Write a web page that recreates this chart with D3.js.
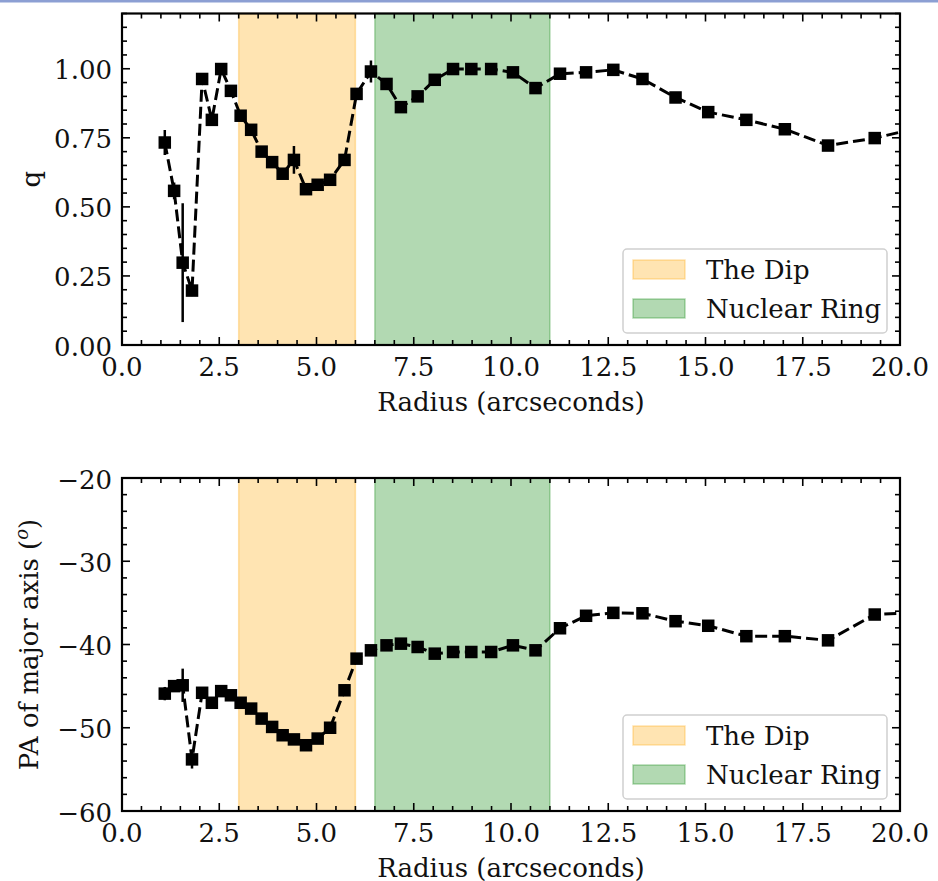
<!DOCTYPE html>
<html>
<head>
<meta charset="utf-8">
<script src="https://cdn.jsdelivr.net/npm/d3@7"></script>
<style>
  html, body { margin: 0; padding: 0; background: #fff; }
  svg { display: block; }
  text { font-family: "DejaVu Serif", serif; fill: #111; }
</style>
</head>
<body>
<svg id="chart" width="938" height="881"></svg>
<script>
// Radial profile of the isophote fits: axis ratio q and position angle vs radius
const radius = [1.10, 1.34, 1.56, 1.80, 2.06, 2.31, 2.55, 2.80, 3.05, 3.32,
                3.59, 3.86, 4.13, 4.42, 4.73, 5.03, 5.35, 5.72, 6.03, 6.40,
                6.80, 7.17, 7.60, 8.04, 8.51, 8.98, 9.49, 10.05, 10.63, 11.26,
                11.93, 12.63, 13.38, 14.23, 15.07, 16.05, 17.04, 18.15, 19.35, 20.60];

const axisRatio = [0.733, 0.558, 0.298, 0.197, 0.963, 0.815, 0.999, 0.920, 0.830, 0.779,
                   0.700, 0.662, 0.620, 0.670, 0.564, 0.580, 0.598, 0.670, 0.909, 0.990,
                   0.945, 0.861, 0.900, 0.960, 0.999, 0.999, 0.999, 0.987, 0.930, 0.982,
                   0.987, 0.996, 0.963, 0.896, 0.843, 0.815, 0.781, 0.722, 0.749, 0.790];
const axisRatioErr = [0.045, 0.030, 0.215, 0.020, 0.020, 0.020, 0.020, 0.020, 0.015, 0.015,
                      0.015, 0.015, 0.015, 0.050, 0.020, 0.020, 0.015, 0.015, 0.015, 0.040,
                      0.015, 0.015, 0.015, 0.015, 0.015, 0.015, 0.015, 0.015, 0.015, 0.015,
                      0.015, 0.015, 0.015, 0.015, 0.015, 0.015, 0.015, 0.015, 0.015, 0.015];

const posAngle = [-45.9, -45.0, -44.9, -53.8, -45.8, -47.0, -45.6, -46.1, -47.0, -47.7,
                  -48.9, -49.9, -50.9, -51.4, -52.1, -51.3, -50.0, -45.5, -41.7, -40.7,
                  -40.1, -39.9, -40.3, -41.1, -40.9, -40.9, -40.9, -40.1, -40.7, -38.05,
                  -36.55, -36.2, -36.25, -37.2, -37.75, -39.0, -39.0, -39.5, -36.4, -36.1];
const posAngleErr = [0.8, 0.4, 2.0, 1.1, 0.4, 0.4, 0.4, 0.4, 0.4, 0.4,
                     0.4, 0.4, 0.4, 0.4, 0.4, 0.4, 0.4, 0.4, 0.4, 0.4,
                     0.4, 0.4, 0.4, 0.4, 0.4, 0.4, 0.4, 0.4, 0.4, 0.4,
                     0.4, 0.4, 0.4, 0.4, 0.4, 0.4, 0.4, 0.4, 0.4, 0.4];

// Shaded radial zones
const zoneNames = ["The Dip", "Nuclear Ring"];
const zoneStart = [3.0, 6.5];
const zoneEnd = [6.0, 11.0];
const zoneColors = ["#ffa500", "#008000"];

const xTicks = [0, 2.5, 5, 7.5, 10, 12.5, 15, 17.5, 20];
const qTicks = [0, 0.25, 0.5, 0.75, 1.0];
const paTicks = [-60, -50, -40, -30, -20];

const svg = d3.select("#chart");

// thin band along the top edge
svg.append("rect").attr("x", 0).attr("y", 0).attr("width", 938).attr("height", 2.5)
  .attr("fill", "#8c9fd3");

const left = 122, right = 900;
const x = d3.scaleLinear().domain([0, 20]).range([left, right]);

function drawPanel(opt) {
  const y = d3.scaleLinear().domain(opt.domain).range([opt.bottom, opt.top]);
  const g = svg.append("g");
  const clipId = "clip-" + opt.id;
  g.append("clipPath").attr("id", clipId).append("rect")
    .attr("x", left).attr("y", opt.top).attr("width", right - left).attr("height", opt.bottom - opt.top);

  // shaded zones
  const zones = g.append("g");
  zoneNames.forEach((n, i) => {
    zones.append("rect")
      .attr("x", x(zoneStart[i])).attr("y", opt.top)
      .attr("width", x(zoneEnd[i]) - x(zoneStart[i])).attr("height", opt.bottom - opt.top)
      .attr("fill", zoneColors[i]).attr("fill-opacity", 0.3)
      .attr("stroke", zoneColors[i]).attr("stroke-opacity", 0.3).attr("stroke-width", 1.5);
  });

  const plot = g.append("g").attr("clip-path", `url(#${clipId})`);
  const pts = radius.map((r, i) => ({ r, v: opt.values[i], e: opt.errors[i] }));

  // dashed connecting line
  plot.append("path")
    .datum(pts)
    .attr("fill", "none").attr("stroke", "#000").attr("stroke-width", 3)
    .attr("stroke-dasharray", "12,5")
    .attr("d", d3.line().x(d => x(d.r)).y(d => y(d.v)));

  // error bars
  plot.selectAll("line.err").data(pts).join("line")
    .attr("class", "err")
    .attr("x1", d => x(d.r)).attr("x2", d => x(d.r))
    .attr("y1", d => y(d.v - d.e)).attr("y2", d => y(d.v + d.e))
    .attr("stroke", "#000").attr("stroke-width", 2.5);

  // square markers
  const ms = 12.5;
  plot.selectAll("rect.pt").data(pts).join("rect")
    .attr("class", "pt")
    .attr("x", d => x(d.r) - ms / 2).attr("y", d => y(d.v) - ms / 2)
    .attr("width", ms).attr("height", ms).attr("fill", "#000");

  // ticks pointing inward on all four sides
  const xMinor = d3.range(0, 20.001, 0.5);
  const yMinor = d3.range(opt.domain[0], opt.domain[1] + 1e-9, opt.minorStep);
  const tk = g.append("g").attr("stroke", "#000").attr("stroke-width", 1.6);
  xMinor.forEach(v => {
    const major = xTicks.some(t => Math.abs(t - v) < 1e-9);
    const L = major ? 8 : 5;
    tk.append("line").attr("x1", x(v)).attr("x2", x(v)).attr("y1", opt.bottom).attr("y2", opt.bottom - L);
    tk.append("line").attr("x1", x(v)).attr("x2", x(v)).attr("y1", opt.top).attr("y2", opt.top + L);
  });
  yMinor.forEach(v => {
    const major = opt.ticks.some(t => Math.abs(t - v) < 1e-9);
    const L = major ? 8 : 5;
    tk.append("line").attr("x1", left).attr("x2", left + L).attr("y1", y(v)).attr("y2", y(v));
    tk.append("line").attr("x1", right).attr("x2", right - L).attr("y1", y(v)).attr("y2", y(v));
  });

  // frame
  g.append("rect").attr("x", left).attr("y", opt.top)
    .attr("width", right - left).attr("height", opt.bottom - opt.top)
    .attr("fill", "none").attr("stroke", "#000").attr("stroke-width", 2.2);

  // tick labels
  g.selectAll("text.xl").data(xTicks).join("text")
    .attr("class", "xl")
    .attr("x", d => x(d)).attr("y", opt.bottom + 31)
    .attr("text-anchor", "middle").attr("font-size", 26)
    .text(d => d.toFixed(1));
  g.selectAll("text.yl").data(opt.ticks).join("text")
    .attr("class", "yl")
    .attr("x", left - 10).attr("y", d => y(d) + 10.5)
    .attr("text-anchor", "end").attr("font-size", 26)
    .text(opt.tickFormat);

  // axis titles
  g.append("text").attr("x", (left + right) / 2).attr("y", opt.bottom + 66)
    .attr("text-anchor", "middle").attr("font-size", 26).text("Radius (arcseconds)");
  const yt = g.append("text")
    .attr("transform", `translate(${opt.yTitleX},${(opt.top + opt.bottom) / 2}) rotate(-90)`)
    .attr("text-anchor", "middle").attr("font-size", 26);
  opt.yTitle(yt);

  // legend
  const lg = g.append("g");
  const lx = 623, ly = opt.bottom - 96;
  lg.append("rect").attr("x", lx).attr("y", ly).attr("width", 264).attr("height", 84)
    .attr("rx", 4).attr("fill", "#fff").attr("fill-opacity", 0.8)
    .attr("stroke", "#d0d0d0").attr("stroke-width", 1.5);
  zoneNames.forEach((n, i) => {
    const yy = ly + 11 + i * 39;
    lg.append("rect").attr("x", lx + 10).attr("y", yy).attr("width", 52).attr("height", 19)
      .attr("fill", zoneColors[i]).attr("fill-opacity", 0.3)
      .attr("stroke", zoneColors[i]).attr("stroke-opacity", 0.3).attr("stroke-width", 1.5);
    lg.append("text").attr("x", lx + 83).attr("y", yy + 19)
      .attr("font-size", 26).text(n);
  });
}

drawPanel({
  id: "q", top: 13.5, bottom: 345, domain: [0, 1.2], minorStep: 0.05,
  ticks: qTicks, tickFormat: d => d.toFixed(2),
  values: axisRatio, errors: axisRatioErr, yTitleX: 40,
  yTitle: t => t.text("q")
});

drawPanel({
  id: "pa", top: 478, bottom: 811, domain: [-60, -20], minorStep: 2,
  ticks: paTicks, tickFormat: d => "\u2212" + Math.abs(d),
  values: posAngle, errors: posAngleErr, yTitleX: 38,
  yTitle: t => {
    t.append("tspan").text("PA of major axis (");
    t.append("tspan").attr("font-style", "italic").attr("font-size", 18)
      .attr("dy", -10).text("o");
    t.append("tspan").attr("dy", 10).text(")");
  }
});
</script>
</body>
</html>
